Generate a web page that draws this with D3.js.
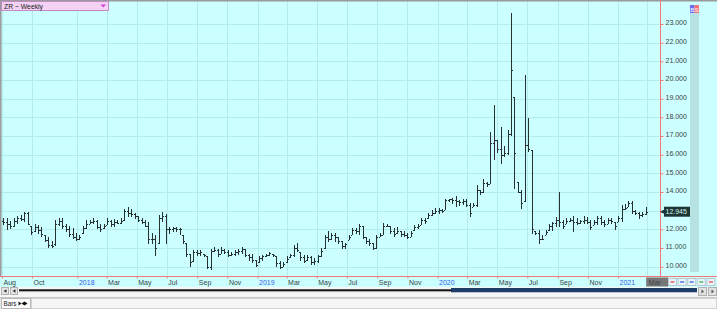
<!DOCTYPE html>
<html>
<head>
<meta charset="utf-8">
<script src="https://cdn.jsdelivr.net/npm/d3@7"></script>
<style>
  body { margin: 0; background: #fff; }
  svg { display: block; font-family: "Liberation Sans", Arial, sans-serif; }
</style>
</head>
<body>
<svg width="717" height="309"></svg>
<script>
// weekly bars, first bar on this Friday, one bar per week after it
const firstWeek = new Date(2017, 7, 4);

const highs = [
  12.6, 12.6, 12.45, 12.6, 12.7, 12.75, 12.95, 12.95, 12.2, 12.3, 12.25, 12.15, 11.7, 11.6, 11.35, 12.5,
  12.6, 12.6, 12.3, 12.2, 12.05, 11.8, 11.7, 12.2, 12.5, 12.5, 12.6, 12.5, 12.3, 12.3, 12.6, 12.5,
  12.55, 12.5, 12.6, 13.1, 13.2, 13.1, 12.85, 12.7, 12.6, 12.5, 12.4, 11.8, 11.7, 12.75, 12.95, 12.8,
  12.15, 12.15, 12.15, 12.05, 11.7, 11.25, 10.7, 10.9, 10.9, 10.9, 10.7, 10.55, 10.95, 11.05, 10.95, 11.05,
  10.95, 10.9, 10.8, 10.9, 10.95, 11.05, 10.95, 10.7, 10.7, 10.35, 10.55, 10.65, 10.7, 10.8, 10.7, 10.55,
  10.3, 10.25, 10.55, 10.7, 11.15, 11.25, 10.8, 10.65, 10.65, 10.55, 10.45, 10.65, 11.0, 11.7, 11.9, 11.8,
  11.8, 11.6, 11.35, 11.25, 11.7, 12.05, 12.05, 12.3, 12.2, 11.6, 11.5, 11.25, 11.7, 11.8, 12.35, 12.3,
  12.2, 12.05, 12.15, 11.9, 11.9, 11.8, 11.9, 12.25, 12.3, 12.6, 12.6, 12.85, 13.05, 13.15, 13.15, 13.1,
  13.65, 13.65, 13.7, 13.8, 13.57, 13.6, 13.6, 13.4, 13.4, 14.4, 14.1, 14.7, 14.55, 17.2, 18.65, 16.8,
  17.5, 16.45, 17.3, 23.57, 19.1, 14.55, 14.1, 20.27, 17.95, 16.25, 11.9, 11.95, 11.7, 11.95, 12.3, 12.4,
  12.65, 14.0, 12.5, 12.6, 12.6, 12.7, 12.6, 12.5, 12.7, 12.65, 12.5, 12.5, 12.7, 12.7, 12.5, 12.6,
  12.6, 12.4, 12.7, 13.3, 13.35, 13.5, 13.5, 13.05, 12.95, 12.95, 13.2
];

const lows = [
  12.25, 12.0, 12.05, 12.15, 12.3, 12.45, 12.4, 12.25, 11.7, 11.9, 11.8, 11.6, 11.35, 11.05, 11.05, 11.15,
  12.2, 12.05, 11.9, 11.6, 11.5, 11.4, 11.45, 11.8, 12.05, 12.3, 12.3, 12.05, 11.9, 12.05, 12.25, 12.15,
  12.15, 12.3, 12.3, 12.5, 12.7, 12.7, 12.6, 12.4, 12.3, 12.15, 11.25, 11.25, 10.6, 11.25, 12.4, 11.25,
  11.8, 11.9, 11.9, 11.7, 11.25, 10.55, 10.0, 10.3, 10.6, 10.6, 10.55, 9.9, 9.85, 10.8, 10.55, 10.7,
  10.7, 10.55, 10.6, 10.6, 10.65, 10.7, 10.55, 10.35, 10.25, 10.0, 10.25, 10.35, 10.55, 10.6, 10.55, 10.0,
  9.9, 10.0, 10.25, 10.5, 10.55, 10.8, 10.35, 10.2, 10.35, 10.1, 10.1, 10.2, 10.55, 11.0, 11.35, 11.45,
  11.35, 11.25, 11.0, 11.0, 11.45, 11.7, 11.8, 11.7, 11.5, 11.25, 11.15, 10.9, 11.0, 11.6, 11.7, 12.15,
  11.8, 11.6, 11.8, 11.6, 11.6, 11.5, 11.6, 11.95, 12.05, 12.25, 12.3, 12.6, 12.75, 12.85, 12.85, 12.9,
  13.05, 13.5, 13.4, 13.2, 13.3, 13.35, 13.2, 12.7, 13.2, 13.2, 13.85, 14.0, 14.3, 14.45, 15.75, 16.1,
  15.55, 15.9, 16.0, 17.05, 14.2, 13.95, 13.1, 13.5, 16.15, 11.8, 11.7, 11.25, 11.45, 11.7, 11.95, 11.95,
  12.15, 12.15, 12.05, 12.3, 12.4, 11.9, 12.25, 12.3, 12.3, 12.3, 12.0, 12.25, 12.25, 12.25, 12.15, 12.3,
  12.3, 12.0, 12.4, 12.4, 13.05, 13.2, 12.85, 12.8, 12.6, 12.7, 12.77
];

const opens = [
  12.45, 12.4, 12.3, 12.2, 12.45, 12.6, 12.55, 12.9, 12.2, 11.9, 12.1, 11.95, 11.7, 11.45, 11.15, 11.2,
  12.3, 12.45, 12.2, 12.0, 11.75, 11.6, 11.5, 11.8, 12.05, 12.3, 12.4, 12.45, 12.15, 12.05, 12.25, 12.45,
  12.3, 12.4, 12.35, 12.5, 13.0, 12.85, 12.8, 12.7, 12.5, 12.4, 12.2, 11.5, 11.5, 11.25, 12.6, 12.7,
  12.0, 12.0, 12.05, 12.0, 11.7, 11.25, 10.7, 10.3, 10.8, 10.75, 10.7, 10.55, 10.0, 10.85, 10.9, 10.7,
  10.9, 10.8, 10.65, 10.7, 10.8, 10.85, 10.95, 10.6, 10.5, 10.35, 10.25, 10.45, 10.55, 10.65, 10.7, 10.55,
  10.2, 10.0, 10.25, 10.5, 10.6, 11.0, 10.8, 10.5, 10.35, 10.5, 10.25, 10.3, 10.55, 11.0, 11.6, 11.5,
  11.7, 11.6, 11.35, 11.1, 11.45, 11.7, 11.95, 11.9, 12.2, 11.6, 11.4, 11.25, 11.0, 11.6, 11.7, 12.2,
  12.2, 11.9, 11.8, 11.9, 11.75, 11.7, 11.6, 11.95, 12.1, 12.25, 12.5, 12.6, 12.75, 12.9, 13.0, 13.05,
  13.05, 13.55, 13.6, 13.55, 13.5, 13.45, 13.5, 13.3, 13.2, 13.3, 14.1, 14.0, 14.5, 14.45, 16.6, 16.8,
  16.3, 16.0, 16.1, 17.1, 19.1, 14.55, 14.0, 13.5, 16.5, 16.25, 11.9, 11.8, 11.5, 11.7, 11.95, 12.2,
  12.35, 12.5, 12.4, 12.3, 12.45, 12.5, 12.4, 12.35, 12.45, 12.5, 12.4, 12.25, 12.4, 12.6, 12.4, 12.3,
  12.5, 12.4, 12.4, 12.6, 13.1, 13.2, 13.4, 13.0, 12.9, 12.75, 12.8
];

const closes = [
  12.4, 12.3, 12.2, 12.45, 12.6, 12.55, 12.9, 12.3, 11.85, 12.1, 11.95, 11.75, 11.45, 11.15, 11.1, 12.3,
  12.45, 12.2, 12.0, 11.75, 11.6, 11.5, 11.6, 12.05, 12.3, 12.4, 12.45, 12.15, 12.0, 12.2, 12.45, 12.3,
  12.4, 12.35, 12.45, 13.0, 12.85, 12.8, 12.7, 12.5, 12.4, 12.2, 11.5, 11.5, 11.0, 12.6, 12.7, 12.0,
  12.0, 12.05, 12.0, 12.0, 11.35, 10.7, 10.25, 10.8, 10.75, 10.8, 10.6, 10.0, 10.85, 10.9, 10.7, 10.9,
  10.8, 10.65, 10.7, 10.8, 10.85, 10.95, 10.6, 10.5, 10.35, 10.1, 10.45, 10.55, 10.65, 10.75, 10.6, 10.2,
  10.0, 10.15, 10.4, 10.6, 11.0, 10.9, 10.5, 10.3, 10.5, 10.25, 10.3, 10.55, 10.85, 11.6, 11.5, 11.7,
  11.6, 11.35, 11.1, 11.2, 11.6, 11.95, 11.9, 12.2, 11.6, 11.4, 11.25, 11.0, 11.6, 11.7, 12.2, 12.2,
  11.9, 11.75, 11.9, 11.75, 11.7, 11.6, 11.8, 12.1, 12.2, 12.5, 12.45, 12.75, 12.9, 13.0, 13.05, 13.0,
  13.55, 13.6, 13.55, 13.5, 13.45, 13.5, 13.3, 12.85, 13.3, 14.1, 14.0, 14.5, 14.45, 16.6, 16.8, 16.3,
  16.0, 16.1, 17.1, 20.55, 16.1, 14.0, 13.4, 16.5, 16.3, 12.0, 11.8, 11.5, 11.5, 11.85, 12.2, 12.35,
  12.5, 12.4, 12.2, 12.45, 12.5, 12.4, 12.35, 12.45, 12.5, 12.4, 12.15, 12.4, 12.6, 12.4, 12.3, 12.5,
  12.45, 12.2, 12.6, 13.1, 13.15, 13.4, 13.0, 12.9, 12.75, 12.8, 12.945
];

const priceTicks = [10, 11, 12, 13, 14, 15, 16, 17, 18, 19, 20, 21, 22, 23];
const monthTicks = [
  "2017-08-01", "2017-10-01", "2018-01-01", "2018-03-01", "2018-05-01", "2018-07-01", "2018-09-01", "2018-11-01",
  "2019-01-01", "2019-03-01", "2019-05-01", "2019-07-01", "2019-09-01", "2019-11-01",
  "2020-01-01", "2020-03-01", "2020-05-01", "2020-07-01", "2020-09-01", "2020-11-01",
  "2021-01-01", "2021-03-01"
];
const lastPrice = 12.945;
const title = "ZR ~ Weekly";

const svg = d3.select("svg");
const W = 717;
const axisX = 660, axisY = 276;

const x = d3.scaleTime()
  .domain([new Date(2017, 7, 1), new Date(2021, 2, 27)])
  .range([2, axisX]);
const y = d3.scaleLinear()
  .domain([9.555, 24.18])
  .range([275, 2]);

const parse = d3.timeParse("%Y-%m-%d");
const tickDates = monthTicks.map(parse);
const bars = highs.map((h, i) => ({
  date: d3.timeWeek.offset(firstWeek, i),
  h: h, l: lows[i], o: opens[i], c: closes[i]
}));

// background
svg.append("rect").attr("width", W).attr("height", 288).attr("fill", "#ccffff");

// grid
const grid = svg.append("g").attr("stroke", "#b2eced").attr("shape-rendering", "crispEdges");
grid.selectAll(".vg").data(tickDates).enter().append("line")
  .attr("x1", d => Math.round(x(d)) + 0.5).attr("x2", d => Math.round(x(d)) + 0.5)
  .attr("y1", 0).attr("y2", axisY);
grid.selectAll(".hg").data(priceTicks).enter().append("line")
  .attr("x1", 0).attr("x2", axisX)
  .attr("y1", d => Math.round(y(d)) + 0.5).attr("y2", d => Math.round(y(d)) + 0.5);

// borders
svg.append("rect").attr("x", 0).attr("y", 0).attr("width", W).attr("height", 1.5).attr("fill", "#9a9a9a");
svg.append("rect").attr("x", 0).attr("y", 0).attr("width", 1.5).attr("height", axisY).attr("fill", "#9a9a9a");

// right strip and B/S icon
svg.append("rect").attr("x", 690).attr("y", 13).attr("width", 9).attr("height", 259).attr("fill", "#b7e2e2");
svg.append("rect").attr("x", 690).attr("y", 5).attr("width", 4.5).attr("height", 8).attr("fill", "#6c6cf6");
svg.append("rect").attr("x", 694.5).attr("y", 5).attr("width", 4.5).attr("height", 8).attr("fill", "#f77272");
svg.append("text").attr("x", 692.2).attr("y", 11.5).attr("text-anchor", "middle")
  .attr("font-size", 6).attr("fill", "#fff").text("B");
svg.append("text").attr("x", 696.8).attr("y", 11.5).attr("text-anchor", "middle")
  .attr("font-size", 6).attr("fill", "#fff").text("S");

// OHLC bars
const g = svg.append("g").attr("stroke", "#263030").attr("stroke-width", 1)
  .attr("shape-rendering", "crispEdges");
const bar = g.selectAll(".bar").data(bars).enter().append("g");
bar.append("line")
  .attr("x1", d => Math.round(x(d.date)) + 0.5).attr("x2", d => Math.round(x(d.date)) + 0.5)
  .attr("y1", d => y(d.h)).attr("y2", d => y(d.l) + 0.5);
bar.append("line")
  .attr("x1", d => Math.round(x(d.date)) - 1).attr("x2", d => Math.round(x(d.date)))
  .attr("y1", d => Math.round(y(d.o)) + 0.5).attr("y2", d => Math.round(y(d.o)) + 0.5);
bar.append("line")
  .attr("x1", d => Math.round(x(d.date)) + 1).attr("x2", d => Math.round(x(d.date)) + 2)
  .attr("y1", d => Math.round(y(d.c)) + 0.5).attr("y2", d => Math.round(y(d.c)) + 0.5);

// price axis
const ly = y(lastPrice);
const yAxis = svg.append("g").attr("transform", `translate(${axisX + 0.5},0)`)
  .call(d3.axisRight(y).tickValues(priceTicks).tickSize(3).tickFormat(d3.format(".3f")));
yAxis.select(".domain").attr("stroke", "#f07a7a").attr("d", `M0,0V${axisY}`);
yAxis.selectAll(".tick line").attr("stroke", "#f07a7a");
yAxis.selectAll(".tick text").attr("x", 5).attr("dy", "0.1em")
  .attr("fill", "#3a4444").attr("font-size", 7).attr("font-family", "Liberation Sans, Arial, sans-serif");
// the last price marker covers the label it sits on
yAxis.selectAll(".tick text").filter(d => Math.abs(y(d) - ly) < 8).remove();

// time axis
const xAxis = svg.append("g").attr("transform", `translate(0,${axisY + 0.5})`)
  .call(d3.axisBottom(x).tickValues(tickDates).tickSize(2)
    .tickFormat(d => d.getMonth() === 0 ? d3.timeFormat("%Y")(d) : d3.timeFormat("%b")(d)));
xAxis.select(".domain").attr("stroke", "#f07a7a").attr("d", `M0,0H${W}`);
xAxis.selectAll(".tick line").attr("stroke", "#f07a7a");

// highlight under the last month label
const lastTick = tickDates[tickDates.length - 1];
xAxis.insert("rect", ".tick:last-of-type")
  .attr("x", x(lastTick) - 1).attr("y", 1).attr("width", 22).attr("height", 9)
  .attr("fill", "#777");
xAxis.selectAll(".tick text")
  .attr("x", 1).attr("y", 3.5).attr("dy", "0.71em").attr("text-anchor", "start")
  .attr("font-size", 7).attr("font-family", "Liberation Sans, Arial, sans-serif")
  .attr("fill", d => d.getMonth() === 0 ? "#3c5cf0" : "#3a4444");
xAxis.selectAll(".tick").raise();

// last price marker
svg.append("path").attr("d", `M${axisX},${ly}L${axisX + 4},${ly - 2}L${axisX + 4},${ly + 2}Z`).attr("fill", "#1e3636");
svg.append("rect").attr("x", axisX + 4).attr("y", ly - 5).attr("width", 26).attr("height", 10).attr("fill", "#1e3636");
svg.append("text").attr("x", axisX + 5.5).attr("y", ly + 2.6).attr("font-size", 7)
  .attr("fill", "#d6f2f2").text(d3.format(".3f")(lastPrice));

// legend box
svg.append("rect").attr("x", 1.5).attr("y", 1.5).attr("width", 107).attr("height", 9)
  .attr("fill", "#f3d2f3").attr("stroke", "#c68ac8");
svg.append("text").attr("x", 4).attr("y", 8.6).attr("font-size", 6.8).attr("fill", "#222").text(title);
svg.append("path").attr("d", "M100.5,4.5L106,4.5L103.25,7.5Z").attr("fill", "#d33fd3");

// small buttons at bottom right of the axis row
const btnColors = ["#e04040", "#3050e0", "#3050e0", "#30b040", "#e04040"];
const btn = svg.selectAll(".btn").data(btnColors).enter().append("g")
  .attr("transform", (d, i) => `translate(${668.5 + i * 9.6},278.5)`);
btn.append("rect").attr("width", 8).attr("height", 7).attr("fill", "#e9f4fb").attr("stroke", "#b8c8d0");
btn.append("line").attr("x1", 2).attr("x2", 6).attr("y1", 3.5).attr("y2", 3.5)
  .attr("stroke", d => d).attr("stroke-width", 1.2);

// scroll row
svg.append("rect").attr("x", 0).attr("y", 287).attr("width", W).attr("height", 10).attr("fill", "#f6f6f6");
[1.5, 10.5].forEach(bx => {
  svg.append("rect").attr("x", bx).attr("y", 287.5).attr("width", 7).attr("height", 7)
    .attr("fill", "#e6e6e6").attr("stroke", "#b0b0b0");
  svg.append("path").attr("d", `M${bx + 2},${291}L${bx + 5},${289.3}L${bx + 5},${292.7}Z`).attr("fill", "#333");
});
svg.append("rect").attr("x", 19).attr("y", 289.3).attr("width", 432).attr("height", 1.8).attr("fill", "#111");
svg.append("rect").attr("x", 19).attr("y", 291.3).attr("width", 432).attr("height", 0.8).attr("fill", "#999");
svg.append("rect").attr("x", 451).attr("y", 288).attr("width", 246).attr("height", 4.3).attr("fill", "#1f3d68");
[698.5, 708.5].forEach(bx => {
  svg.append("rect").attr("x", bx).attr("y", 287.5).attr("width", 8).attr("height", 8)
    .attr("fill", "#e2e2e2").attr("stroke", "#b0b0b0");
  svg.append("path").attr("d", `M${bx + 3},${289.5}L${bx + 5.5},${291.5}L${bx + 3},${293.5}Z`).attr("fill", "#555");
});

// tab row
svg.append("rect").attr("x", 0).attr("y", 297).attr("width", W).attr("height", 12).attr("fill", "#e8e8e8");
svg.append("line").attr("x1", 0).attr("x2", W).attr("y1", 297.5).attr("y2", 297.5).attr("stroke", "#c8c8c8");
svg.append("rect").attr("x", 31.5).attr("y", 298.5).attr("width", 685).attr("height", 10).attr("fill", "#f6f6f6").attr("stroke", "#d4d4d4");
svg.append("rect").attr("x", 1.5).attr("y", 298.5).attr("width", 29).attr("height", 10).attr("fill", "#fbfbfb").attr("stroke", "#b8b8b8");
svg.append("text").attr("x", 3.5).attr("y", 306.3).attr("font-size", 6.3).attr("fill", "#222").text("Bars");
svg.append("path").attr("d", "M18.5,301.5L21.5,303.5L18.5,305.5Z M21.5,303.5L24.5,301.5L24.5,305.5Z M24.5,301.5L27.5,303.5L24.5,305.5Z")
  .attr("fill", "#111");
</script>
</body>
</html>
